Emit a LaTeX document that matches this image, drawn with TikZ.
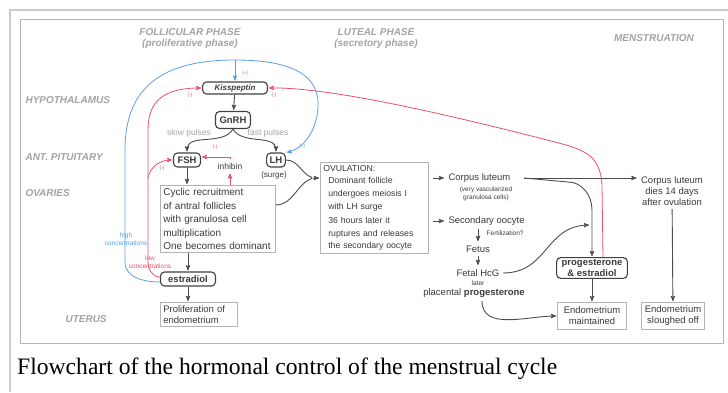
\documentclass[tikz,border=0pt]{standalone}
\usepackage{fontspec}
\setmainfont{Liberation Sans}
\newfontfamily\capfont{Liberation Serif}
\usetikzlibrary{arrows,positioning}
\definecolor{highblue}{HTML}{5B9EE6}
\definecolor{lowred}{HTML}{E9506B}
\definecolor{headgray}{HTML}{A3A3A3}
\definecolor{inkgray}{HTML}{3A3A3A}
\definecolor{framegray}{HTML}{B4B4B4}

\begin{document}
\begin{tikzpicture}[x=1pt,y=-1pt,>=stealth',shorten >=1pt,text=inkgray,
  font=\fontsize{9.5}{11}\selectfont]
\tikzset{hormone/.style={draw=black!75,line width=1.1pt,rounded corners=4pt,minimum height=14pt,
  inner xsep=4pt,inner ysep=2pt,font=\fontsize{9.5}{10.5}\selectfont\bfseries}}
\tikzset{plainbox/.style={draw=framegray,line width=0.6pt,align=left,inner sep=3pt}}
\tikzset{region/.style={text=headgray,font=\fontsize{10}{11}\selectfont\bfseries\itshape}}
\tikzset{small/.style={font=\fontsize{6.5}{7.5}\selectfont,align=center,inner sep=0.5pt}}
\tikzset{sign/.style={font=\fontsize{5}{5}\selectfont,inner sep=0pt}}
\tikzset{flow/.style={->,draw=black!70,line width=0.9pt}}
\tikzset{plus/.style={->,draw=highblue,line width=0.8pt}}
\tikzset{minus/.style={->,draw=lowred,line width=0.8pt}}
\useasboundingbox (0,0) rectangle (728,393);
\draw[black!20,line width=2pt] (728,10) -- (10,10) -- (10,393);
\draw[framegray,line width=0.7pt] (20,19) rectangle (723,343);

\node[region,align=center] (follicular) at (190,38.5) {FOLLICULAR PHASE\\(proliferative phase)};
\node[region,align=center] (luteal) at (376,38.5) {LUTEAL PHASE\\(secretory phase)};
\node[region] (menses) at (654,38) {MENSTRUATION};
\node[region,anchor=west] (hypothalamus) at (22,100) {HYPOTHALAMUS};
\node[region,anchor=west] (pituitary) at (22,157) {ANT. PITUITARY};
\node[region,anchor=west] (ovaries) at (22,193) {OVARIES};
\node[region,anchor=west] (uterus) at (62,319) {UTERUS};

\node[hormone,minimum height=12pt,minimum width=65pt,inner ysep=1pt,font=\fontsize{8}{9}\selectfont\bfseries\itshape] (kiss) at (235,88) {Kisspeptin};
\node[hormone,minimum height=17pt] (gnrh) at (233,120) {GnRH};
\node[hormone] (fsh) at (187,160) {FSH};
\node[hormone,inner xsep=3pt] (lh) at (276,160) {LH};
\node[font=\fontsize{8}{9}\selectfont] (surge) at (274,175) {(surge)};
\node[font=\fontsize{8.5}{9}\selectfont] (inhibin) at (230,166) {inhibin};
\node[text=headgray,font=\fontsize{8.5}{9}\selectfont] (slow) at (189,133) {slow pulses};
\node[text=headgray,font=\fontsize{8.5}{9}\selectfont] (fast) at (268,133) {fast pulses};

\node[plainbox,anchor=north west,text width=109pt,font=\fontsize{10}{13.5}\selectfont] (cyclic) at (160,185)
  {Cyclic recruitment\\of antral follicles\\with granulosa cell\\multiplication\\One becomes dominant};
\node[hormone,minimum width=55pt] (est) at (188,279) {estradiol};
\node[plainbox,anchor=north west,text width=71pt] (prolif) at (160,302) {Proliferation of\\endometrium};
\node[plainbox,anchor=north west,text width=102pt,font=\fontsize{8.7}{12.6}\selectfont] (ovulation) at (320,162)
  {OVULATION:\\\hspace*{5pt}Dominant follicle\\\hspace*{5pt}undergoes meiosis I\\\hspace*{5pt}with LH surge\\[2pt]
   \hspace*{5pt}36 hours later it\\\hspace*{5pt}ruptures and releases\\\hspace*{5pt}the secondary oocyte};

\node[anchor=west] (corpus) at (445,178) {Corpus luteum};
\node[small] (vascular) at (486,194) {(very vascularized\\granulosa cells)};
\node[anchor=west] (secondary) at (445,221) {Secondary oocyte};
\node[small,anchor=west] (fert) at (486,233) {Fertilization?};
\node (fetus) at (478,249) {Fetus};
\node (hcg) at (478,273) {Fetal HcG};
\node[small] (later) at (478,283) {later};
\node (placental) at (474,293) {placental \textbf{progesterone}};
\node[hormone,align=center,inner xsep=5pt] (pe) at (592,268) {progesterone\\\& estradiol};
\node[plainbox,align=center,minimum width=69pt,minimum height=27pt] (maintained) at (592,316) {Endometrium\\maintained};
\node[align=center] (dies) at (672,191) {Corpus luteum\\dies 14 days\\after ovulation};
\node[plainbox,align=center,minimum width=63pt,minimum height=27pt] (sloughed) at (673,316) {Endometrium\\sloughed off};

\node[small,text=highblue,fill=white] (high) at (126,239) {high\\concentrations};
\node[small,text=lowred,fill=white] (low) at (150,262) {low\\concentrations};
\node[sign,text=highblue] (kissplus) at (245,73) {(+)};
\node[sign,text=highblue] (lhplus) at (302,146) {(+)};
\node[sign,text=lowred] (kissleft) at (190,95) {(-)};
\node[sign,text=lowred] (kissright) at (274,95) {(-)};
\node[sign,text=lowred] (inhibfsh) at (215,147) {(-)};
\node[sign,text=lowred] (estfsh) at (162,168) {(-)};

\coordinate (merge) at (313,178);
\coordinate (clright) at ([xshift=10pt]corpus.east);
\coordinate (join) at (590,225);
\coordinate (bluetop) at (235,60);
\coordinate (fshbranch) at (148,178);

\path (kiss) edge[flow] (gnrh);
\path (gnrh.south) edge[flow,out=-120,in=90] (fsh.north);
\path (gnrh.south) edge[flow,out=-60,in=90] (lh.north);
\path (fsh.south) edge[flow] (fsh.south |- cyclic.north);
\path (est.north |- cyclic.south) edge[flow] (est.north);
\path (est.south) edge[flow] (est.south |- prolif.north);
\draw[black!70,line width=0.9pt] (lh.east) to[out=0,in=160] (merge);
\draw[black!70,line width=0.9pt] ([yshift=14pt]cyclic.east) to[out=0,in=-160] (merge);
\path (merge) edge[flow] (merge -| ovulation.west);
\path (ovulation.east |- corpus) edge[flow,shorten <=4pt] (corpus.west);
\path (ovulation.east |- secondary) edge[flow,shorten <=4pt] (secondary.west);
\path (secondary.south -| fetus) edge[flow] (fetus.north);
\path (fetus) edge[flow] (hcg);
\draw[flow] (clright) -- (clright -| dies.west);
\draw[flow] (clright) -- (568,182) to[out=0,in=90] (592,210) -- (pe.north);
\draw[flow] (hcg.east) .. controls (548,273) and (545,226) .. (join);
\draw[flow] ([xshift=8pt]placental.south) to[out=-90,in=180] (maintained.west);
\path (pe) edge[flow] (maintained);
\path (dies) edge[flow] (sloughed);

\path (inhibin.south |- cyclic.north) edge[minus] (inhibin.south);
\draw[minus] (inhibin.north) |- ([yshift=3pt]fsh.east);
\draw[minus] ([xshift=11pt]pe.north) -- (602,185) .. controls (600,155) and (585,150) .. (555,142)
  .. controls (450,115) and (330,87) .. (kiss.east);
\draw[minus] ([yshift=2pt]est.west) to[out=180,in=-90] (148,262) -- (148,130)
  .. controls (148,100) and (165,88) .. (kiss.west);
\draw[minus] (fshbranch) to[out=80,in=180] (fsh.west);
\draw[plus] ([yshift=-3pt]est.west) to[out=180,in=-90] (125,262) -- (125,150)
  .. controls (125,85) and (165,60) .. (bluetop) .. controls (300,60) and (320,80) .. (318,108)
  .. controls (316,135) and (300,150) .. (lh.north east);
\path (bluetop) edge[plus] (kiss.north);

\node[anchor=base west,text=black,font=\capfont\fontsize{23.6}{28}\selectfont,inner sep=0pt] (caption) at (17,374)
  {Flowchart of the hormonal control of the menstrual cycle};
\end{tikzpicture}
\end{document}
